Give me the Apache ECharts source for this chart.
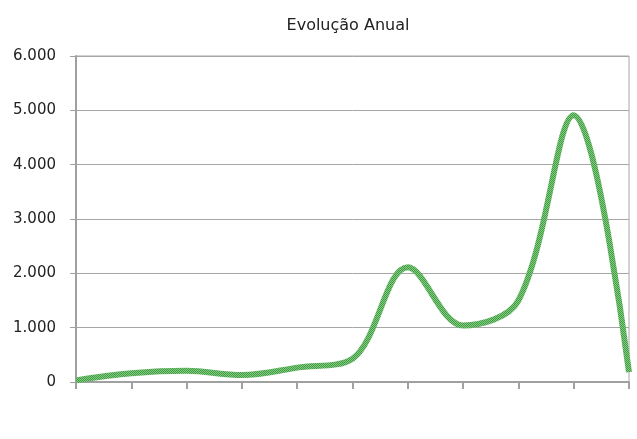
<!DOCTYPE html>
<html>
<head>
<meta charset="utf-8">
<script src="https://cdn.jsdelivr.net/npm/echarts@6/dist/echarts.min.js"></script>
<style>
html,body{margin:0;padding:0;background:#fff;}
#chart{width:637px;height:439px;}
</style>
</head>
<body>
<div id="chart"></div>
<script>
const titleText = 'Evolução Anual';
const years = ['1999','2000','2001','2002','2003','2004','2005','2006','2007','2008','2009'];
const values = [30, 160, 205, 130, 265, 430, 2110, 1040, 1500, 4910, 180];
const yTicks = [0, 1000, 2000, 3000, 4000, 5000, 6000];

function fmt(v){
  return String(v).replace(/\B(?=(\d{3})+(?!\d))/g, '.');
}

// hatched green texture for the line
const pat = document.createElement('canvas');
pat.width = 2; pat.height = 2;
const pc = pat.getContext('2d');
pc.fillStyle = '#86c986'; pc.fillRect(0,0,2,2);
pc.fillStyle = '#3f9f3f'; pc.fillRect(0,0,1,1); pc.fillRect(1,1,1,1);

const chart = echarts.init(document.getElementById('chart'), null, {renderer:'canvas'});
const font = 'DejaVu Sans';
chart.setOption({
  animation: false,
  backgroundColor: '#ffffff',
  title: {
    text: titleText,
    left: 343, top: 13, textAlign: 'center',
    textStyle: {fontFamily: font, fontSize: 16, fontWeight: 'normal', color: '#222'}
  },
  grid: {
    left: 76, right: 8, top: 56, bottom: 57,
    outerBoundsMode: 'none',
    show: true, borderColor: '#a6a6a6', borderWidth: 1
  },
  xAxis: {
    type: 'category',
    data: years,
    boundaryGap: false,
    axisLine: {lineStyle: {color: '#a0a0a0', width: 2}},
    axisTick: {show: true, length: 7, lineStyle: {color: '#a0a0a0', width: 2}},
    axisLabel: {show: false},
    splitLine: {show: false}
  },
  yAxis: {
    type: 'value',
    min: yTicks[0], max: yTicks[yTicks.length-1], interval: 1000,
    axisLine: {show: true, lineStyle: {color: '#a0a0a0', width: 2}},
    axisTick: {show: true, length: 6, lineStyle: {color: '#a0a0a0', width: 1}},
    axisLabel: {margin: 20, fontFamily: font, fontSize: 15, color: '#222', formatter: fmt},
    splitLine: {show: true, lineStyle: {color: '#a6a6a6', width: 1}}
  },
  series: [{
    type: 'line',
    data: values,
    smooth: 0.35,
    symbol: 'none',
    lineStyle: {color: {image: pat, repeat: 'repeat'}, width: 6}
  }, {
    // vertical year labels under the axis, anchored on the axis baseline
    type: 'scatter',
    silent: true,
    symbolSize: 0,
    clip: false,
    itemStyle: {opacity: 0},
    data: years.map(y => [y, yTicks[0]]),
    label: {
      show: true,
      position: 'bottom',
      distance: 20,
      rotate: 90,
      align: 'right',
      verticalAlign: 'middle',
      fontFamily: font, fontSize: 15, color: '#222',
      formatter: p => p.value[0]
    }
  }]
});
</script>
</body>
</html>
